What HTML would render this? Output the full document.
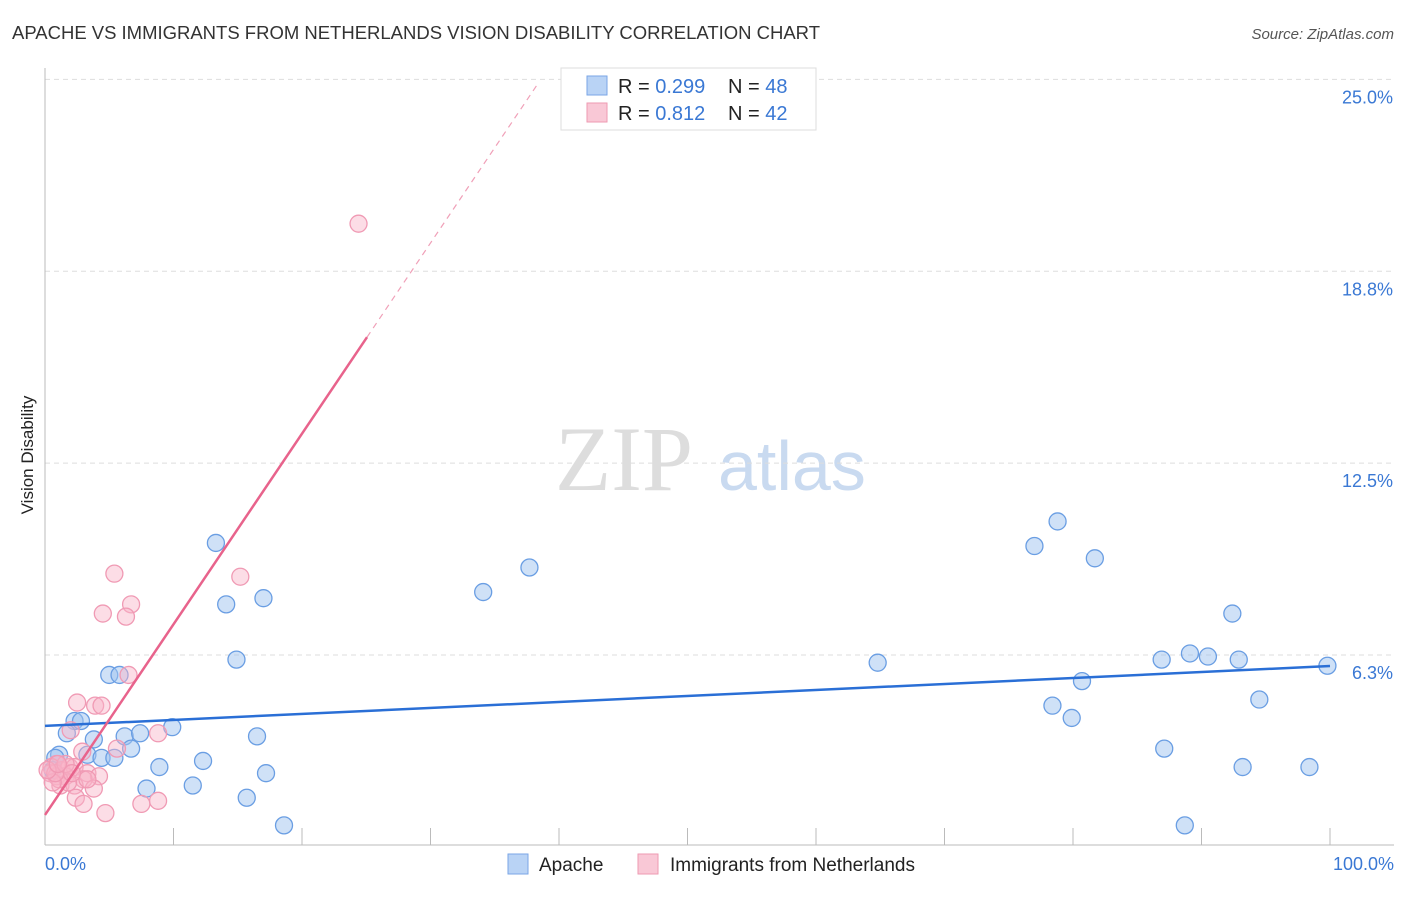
<!DOCTYPE html>
<html><head><meta charset="utf-8"><style>
body{margin:0;background:#fff;font-family:"Liberation Sans",sans-serif}
</style></head><body>
<svg width="1406" height="892" xmlns="http://www.w3.org/2000/svg" style="font-family:'Liberation Sans',sans-serif">
<text x="12" y="39" font-size="18.5" fill="#333" textLength="808">APACHE VS IMMIGRANTS FROM NETHERLANDS VISION DISABILITY CORRELATION CHART</text>
<text x="1394" y="39" font-size="15" fill="#555" font-style="italic" text-anchor="end">Source: ZipAtlas.com</text>
<text x="33" y="455" font-size="17" fill="#222" text-anchor="middle" transform="rotate(-90 33 455)">Vision Disability</text>
<text x="555" y="490" font-size="92" fill="#ddd" font-family="Liberation Serif,serif">ZIP</text>
<text x="718" y="490" font-size="70" fill="#c9daf0">atlas</text>
<g id="grid"></g>
<g id="pts"></g>
<g id="lines"></g>
<rect x="561" y="68" width="255" height="62" fill="#fff" stroke="#ddd"/>
<rect x="587" y="76" width="20" height="19" fill="#b9d3f5" stroke="#7aa6e6"/>
<rect x="587" y="103" width="20" height="19" fill="#f9c8d6" stroke="#ee9ab2"/>
<g font-size="20">
<text x="618" y="93" fill="#222">R = <tspan fill="#3a78d4">0.299</tspan></text>
<text x="728" y="93" fill="#222">N = <tspan fill="#3a78d4">48</tspan></text>
<text x="618" y="120" fill="#222">R = <tspan fill="#3a78d4"> 0.812</tspan></text>
<text x="728" y="120" fill="#222">N = <tspan fill="#3a78d4">42</tspan></text>
</g>
<rect x="508" y="854" width="20" height="20" fill="#b9d3f5" stroke="#7aa6e6"/>
<text x="539" y="871" font-size="19" fill="#222">Apache</text>
<rect x="638" y="854" width="20" height="20" fill="#f9c8d6" stroke="#ee9ab2"/>
<text x="670" y="871" font-size="19" fill="#222">Immigrants from Netherlands</text>
<text x="45" y="870" font-size="18" fill="#3a78d4">0.0%</text>
<text x="1394" y="870" font-size="18" fill="#3a78d4" text-anchor="end">100.0%</text>
</svg>
<script>
const yTicks=[25.0,18.8,12.5,6.3];
const yTickVals=[25,18.75,12.5,6.25];
const apacheX=[13.3,14.1,17.0,14.9,34.1,37.7,5.0,5.8,2.3,2.8,1.7,3.8,6.2,7.4,9.9,6.7,3.3,4.4,5.4,1.1,0.8,8.9,12.3,16.5,17.2,7.9,11.5,15.7,18.6,64.8,77.0,78.8,81.7,92.4,86.9,89.1,90.5,92.9,99.8,80.7,78.4,79.9,94.5,87.1,93.2,98.4,88.7,0.6];
const apacheY=[9.9,7.9,8.1,6.1,8.3,9.1,5.6,5.6,4.1,4.1,3.7,3.5,3.6,3.7,3.9,3.2,3.0,2.9,2.9,3.0,2.9,2.6,2.8,3.6,2.4,1.9,2.0,1.6,0.7,6.0,9.8,10.6,9.4,7.6,6.1,6.3,6.2,6.1,5.9,5.4,4.6,4.2,4.8,3.2,2.6,2.6,0.7,2.5];
const nethX=[24.4,5.4,15.2,6.7,4.5,6.3,6.5,2.5,3.9,4.4,2.0,8.8,2.9,5.6,0.9,0.5,1.3,1.9,2.3,0.4,0.9,1.6,3.3,4.2,3.0,1.2,2.3,3.8,1.8,1.1,2.4,3.0,4.7,7.5,8.8,0.6,0.8,0.2,1.6,3.3,1.0,2.1];
const nethY=[20.3,8.9,8.8,7.9,7.6,7.5,5.6,4.7,4.6,4.6,3.8,3.7,3.1,3.2,2.7,2.6,2.5,2.6,2.6,2.4,2.3,2.3,2.4,2.3,2.2,2.0,2.0,1.9,2.1,2.2,1.6,1.4,1.1,1.4,1.5,2.1,2.4,2.5,2.7,2.2,2.7,2.4];
const apacheTrend=[3.94,5.89];
const nethTrend=[1.04,0.621];
const NS='http://www.w3.org/2000/svg';
const X=v=>45+v*12.85, Y=v=>655-(v-6.25)*30.7;
function mk(t,a,p){const e=document.createElementNS(NS,t);for(const k in a)e.setAttribute(k,a[k]);p.appendChild(e);return e;}
const g=document.getElementById('grid');
yTickVals.forEach((v,i)=>{
 const l=mk('line',{x1:45,x2:1394,y1:Y(v),y2:Y(v),stroke:'#ddd','stroke-dasharray':'5,4'},g);
 
 
 const t=mk('text',{x:1393,y:Y(v)+24,'font-size':18,fill:'#3a78d4','text-anchor':'end'},g);
 t.textContent=yTicks[i].toFixed(1)+'%';
 
 
});
const ax=mk('line',{x1:45,x2:45,y1:68,y2:845,stroke:'#bbb'},g);


const bx=mk('line',{x1:45,x2:1394,y1:845,y2:845,stroke:'#bbb'},g);


for(let i=1;i<=10;i++){const tk=mk('line',{x1:X(i*10),x2:X(i*10),y1:828,y2:845,stroke:'#bbb'},g);
 
 }
const P=document.getElementById('pts');
apacheX.forEach((x,i)=>{const c=mk('circle',{cx:X(x),cy:Y(apacheY[i]),r:8.5,fill:'rgba(160,196,240,0.5)',stroke:'#6a9ee3','stroke-width':1.3},P);
 
 });
nethX.forEach((x,i)=>{const c=mk('circle',{cx:X(x),cy:Y(nethY[i]),r:8.5,fill:'rgba(248,180,200,0.45)',stroke:'#f09ab4','stroke-width':1.3},P);
 
 });
const L=document.getElementById('lines');
const bl=mk('line',{x1:X(0),y1:Y(apacheTrend[0]),x2:X(100),y2:Y(apacheTrend[1]),stroke:'#2a6fd6','stroke-width':2.5},L);


const xe=25.06, xd=38.4;
const pl=mk('line',{x1:X(0),y1:Y(nethTrend[0]),x2:X(xe),y2:Y(nethTrend[0]+nethTrend[1]*xe),stroke:'#e8638c','stroke-width':2.5},L);


const pd=mk('line',{x1:X(xe),y1:Y(nethTrend[0]+nethTrend[1]*xe),x2:X(xd),y2:Y(nethTrend[0]+nethTrend[1]*xd),stroke:'#f0a0b8','stroke-width':1.2,'stroke-dasharray':'6,5'},L);


</script>
</body></html>
